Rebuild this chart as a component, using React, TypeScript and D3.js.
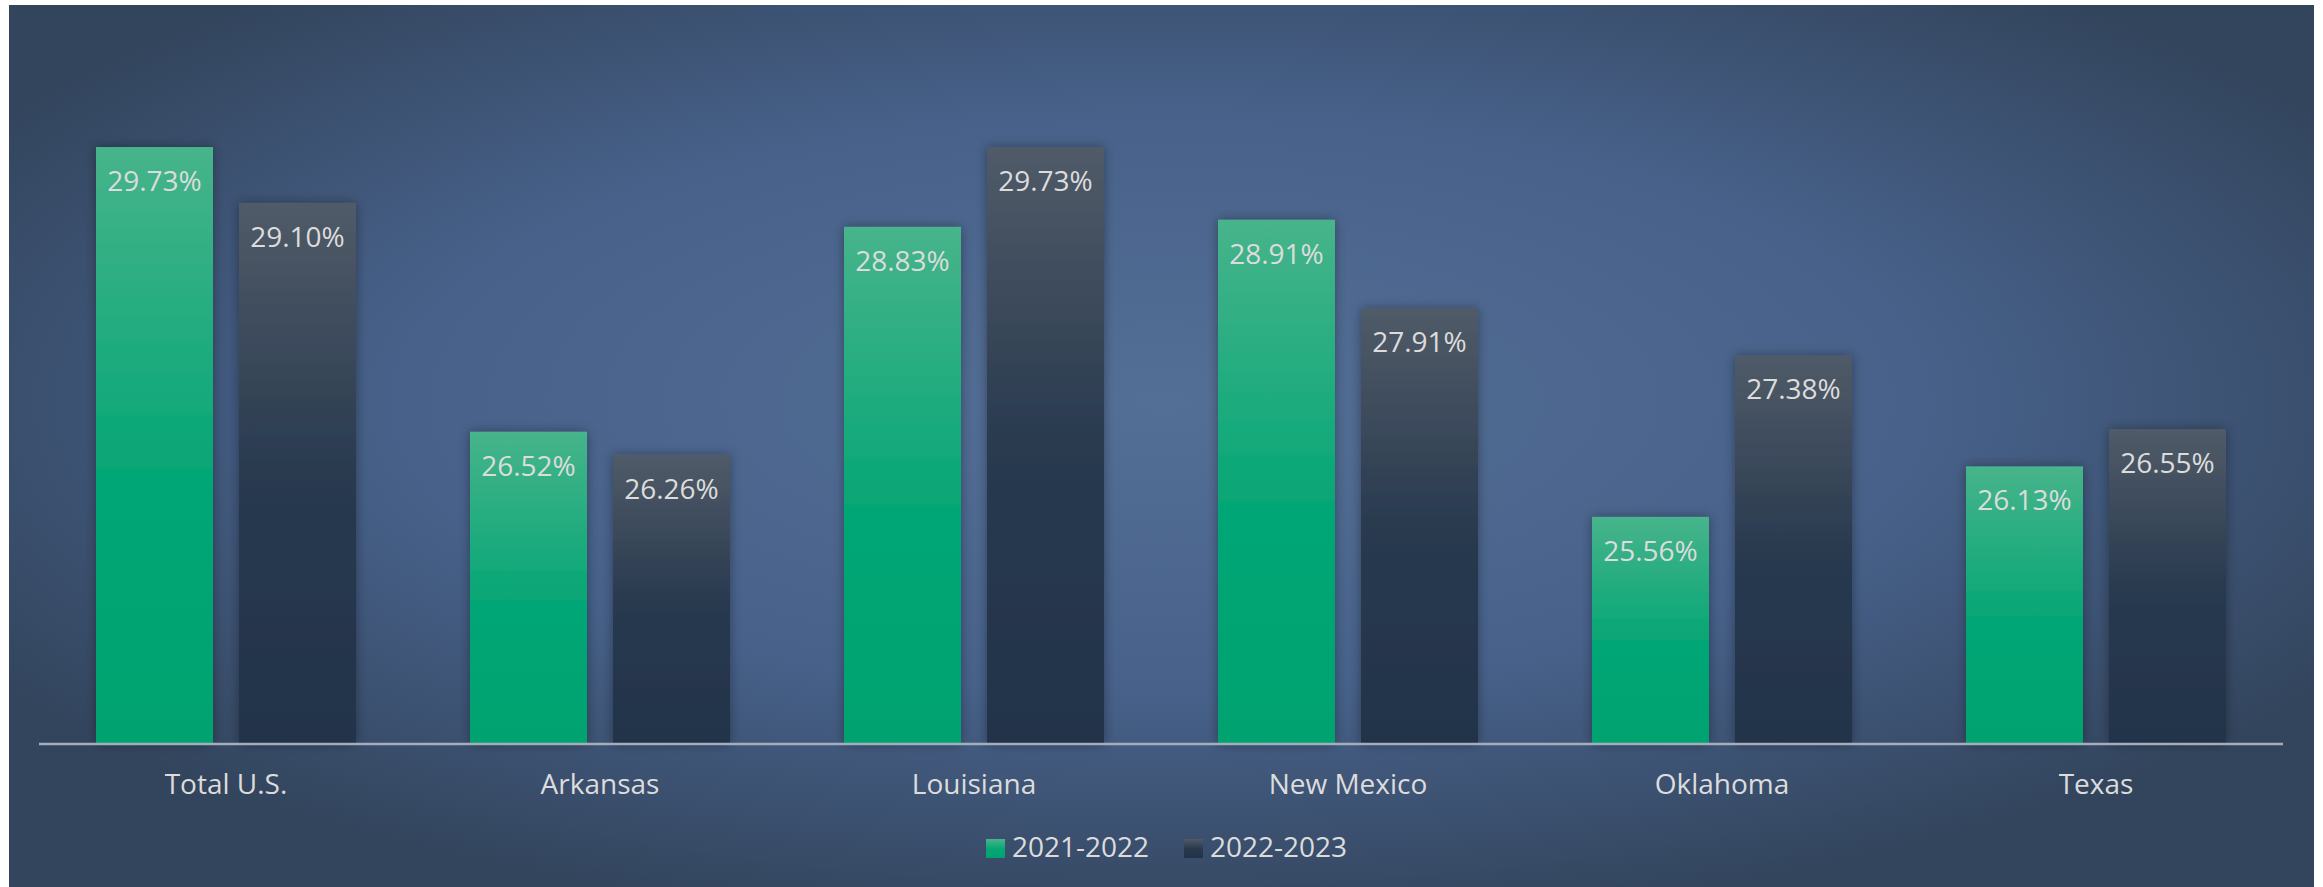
import React from "react";
import * as d3 from "d3";

const categories = ["Total U.S.", "Arkansas", "Louisiana", "New Mexico", "Oklahoma", "Texas"];
const series1Name = "2021-2022";
const series2Name = "2022-2023";
const series1 = [29.73, 26.52, 28.83, 28.91, 25.56, 26.13];
const series2 = [29.1, 26.26, 29.73, 27.91, 27.38, 26.55];

const W = 2323;
const H = 887;

export default function App() {
  const x0 = d3.scaleBand<string>().domain(categories).range([39, 2283]).paddingInner(0).paddingOuter(0);
  const bw = 117;
  const gap = 26;
  const y = d3.scaleLinear().domain([23, 30]).range([744, 744 - 7 * 88.7]);
  const fmt = (v: number) => v.toFixed(2) + "%";
  const font = "'Open Sans', sans-serif";
  const labelColor = "#dcdcdc";
  const fs = 28;

  return (
    <svg width={W} height={H} style={{ position: "absolute", left: 0, top: 0 }}>
      <defs>
        <radialGradient id="bg" cx="0.5" cy="0.45" r="0.6">
          <stop offset="0" stopColor="#546f96" />
          <stop offset="0.55" stopColor="#47618a" />
          <stop offset="1" stopColor="#33455d" />
        </radialGradient>
        <linearGradient id="g1" x1="0" y1="0" x2="0" y2="1">
          <stop offset="0" stopColor="#47b48b" />
          <stop offset="0.55" stopColor="#05a675" />
          <stop offset="1" stopColor="#00a370" />
        </linearGradient>
        <linearGradient id="g2" x1="0" y1="0" x2="0" y2="1">
          <stop offset="0" stopColor="#505b68" />
          <stop offset="0.5" stopColor="#293a4f" />
          <stop offset="1" stopColor="#22334a" />
        </linearGradient>
        <filter id="sh" x="-30%" y="-10%" width="160%" height="120%">
          <feDropShadow dx="0" dy="0" stdDeviation="6" floodColor="#000" floodOpacity="0.35" />
        </filter>
      </defs>
      <rect x={9} y={5} width={2305} height={882} fill="url(#bg)" />
      {categories.map((c, i) => {
        const cx = (x0(c) as number) + x0.bandwidth() / 2;
        const xa = cx - gap / 2 - bw;
        const xb = cx + gap / 2;
        const ya = y(series1[i]);
        const yb = y(series2[i]);
        return (
          <g key={c}>
            <rect x={xa} y={ya} width={bw} height={y(23) - ya} fill="url(#g1)" filter="url(#sh)" />
            <rect x={xb} y={yb} width={bw} height={y(23) - yb} fill="url(#g2)" filter="url(#sh)" />
            <text x={xa + bw / 2} y={ya + 44} textAnchor="middle" fill={labelColor} fontFamily={font} fontSize={fs}>
              {fmt(series1[i])}
            </text>
            <text x={xb + bw / 2} y={yb + 44} textAnchor="middle" fill={labelColor} fontFamily={font} fontSize={fs}>
              {fmt(series2[i])}
            </text>
            <text x={cx} y={794} textAnchor="middle" fill={labelColor} fontFamily={font} fontSize={fs}>
              {c}
            </text>
          </g>
        );
      })}
      <line x1={39} x2={2283} y1={744} y2={744} stroke="#a3adbb" strokeWidth={2.5} />
      <g>
        <rect x={986} y={839} width={19} height={19} fill="url(#g1)" />
        <text x={1012} y={857} fill={labelColor} fontFamily={font} fontSize={fs}>{series1Name}</text>
        <rect x={1184} y={839} width={19} height={19} fill="url(#g2)" />
        <text x={1210} y={857} fill={labelColor} fontFamily={font} fontSize={fs}>{series2Name}</text>
      </g>
    </svg>
  );
}
